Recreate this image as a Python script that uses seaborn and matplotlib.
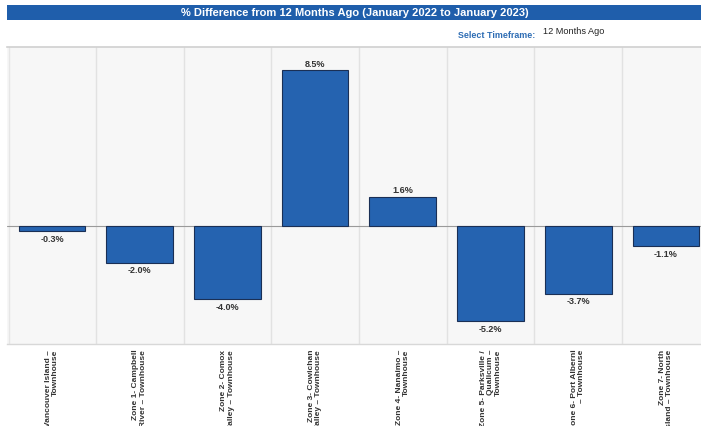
import matplotlib
matplotlib.use("Agg")
import matplotlib.pyplot as plt
import seaborn as sns
import pandas as pd
from matplotlib.patches import Rectangle

categories = [
    "Vancouver Island –\nTownhouse",
    "Zone 1- Campbell\nRiver – Townhouse",
    "Zone 2- Comox\nValley – Townhouse",
    "Zone 3- Cowichan\nValley – Townhouse",
    "Zone 4- Nanaimo –\nTownhouse",
    "Zone 5- Parksville /\nQualicum –\nTownhouse",
    "Zone 6- Port Alberni\n– Townhouse",
    "Zone 7- North\nIsland – Townhouse",
]
values = [-0.3, -2.0, -4.0, 8.5, 1.6, -5.2, -3.7, -1.1]
value_labels = ["-0.3%", "-2.0%", "-4.0%", "8.5%", "1.6%", "-5.2%", "-3.7%", "-1.1%"]

title = "% Difference from 12 Months Ago (January 2022 to January 2023)"

sns.set_theme(style="white")
plt.rcParams["font.family"] = ["Liberation Sans", "DejaVu Sans"]

W, H = 701, 427
fig = plt.figure(figsize=(W / 100, H / 100), dpi=100)
fig.patch.set_facecolor("white")

def fx(px):
    return px / W

def fy(py):
    return 1 - py / H

# axes
ax_left, ax_right, ax_top, ax_bottom = 7, 701, 48, 345
ax = fig.add_axes([fx(ax_left), fy(ax_bottom), (ax_right - ax_left) / W, (ax_bottom - ax_top) / H])
ax.set_facecolor("#f7f7f7")

df = pd.DataFrame({"cat": categories, "val": values})
sns.barplot(data=df, x="cat", y="val", color="#2563b0", saturation=1,
            edgecolor="#1a2f55", linewidth=0.8, width=0.76, ax=ax, zorder=3)

ax.set_xlim(-0.513, 7.40)
ax.set_ylim(-6.45, 9.78)
ax.axhline(0, color="#9a9a9a", linewidth=0.8, zorder=2)
for i in range(len(categories)):
    ax.axvline(i + 0.5, color="#e2e2e2", linewidth=1.0, zorder=1)
ax.axvline(-0.49, color="#e6e6e6", linewidth=1.0, zorder=1)

for i, (v, lab) in enumerate(zip(values, value_labels)):
    if v >= 0:
        ax.annotate(lab, (i, v), xytext=(0, 2), textcoords="offset points",
                    ha="center", va="bottom", fontsize=6.5, fontweight="bold", color="#333333")
    else:
        ax.annotate(lab, (i, v), xytext=(0, -2), textcoords="offset points",
                    ha="center", va="top", fontsize=6.5, fontweight="bold", color="#333333")

ax.set_yticks([])
ax.set_xlabel("")
ax.set_ylabel("")
ax.set_xticks(range(len(categories)))
ax.set_xticklabels(categories, rotation=90, fontsize=6.0, fontweight="bold",
                   color="#333333", ha="center", va="top", multialignment="right",
                   linespacing=1.1)
ax.tick_params(axis="x", length=0, pad=3.5)
for s in ["left", "right"]:
    ax.spines[s].set_visible(False)
ax.spines["top"].set_color("#d0d0d0")
ax.spines["top"].set_linewidth(1.2)
ax.spines["bottom"].set_color("#d8d8d8")
ax.spines["bottom"].set_linewidth(1.0)

# title banner
fig.patches.append(Rectangle((fx(7), fy(21)), (W - 7) / W, 15.5 / H,
                             transform=fig.transFigure, facecolor="#1f5eab",
                             edgecolor="none", zorder=0))
fig.text(fx(355), fy(13.5), title, ha="center", va="center", color="white",
         fontsize=8.0, fontweight="bold")
fig.text(fx(535), fy(35), "Select Timeframe:", ha="right", va="center",
         color="#2e6db4", fontsize=6.4, fontweight="bold")
fig.text(fx(543), fy(31), "12 Months Ago", ha="left", va="center",
         color="#222222", fontsize=6.6)

fig.savefig("out.png", dpi=100, facecolor="white")
